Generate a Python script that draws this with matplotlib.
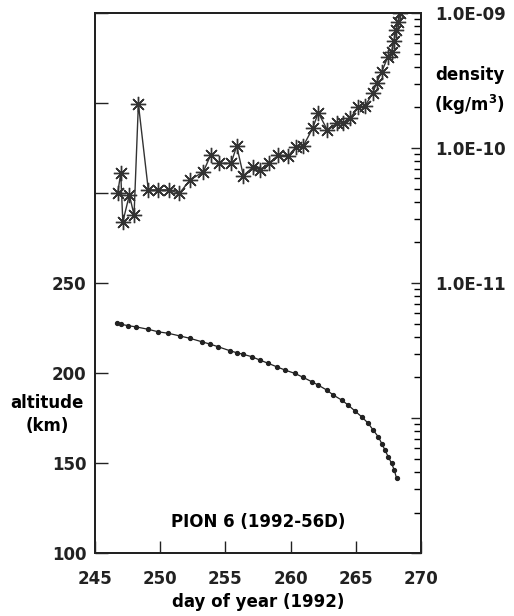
import numpy as np
import matplotlib
matplotlib.use("Agg")
import matplotlib.pyplot as plt
from matplotlib.ticker import LogLocator, NullFormatter

plt.rcParams['font.family'] = ['DejaVu Sans']
plt.rcParams['font.weight'] = 'bold'

# altitude of PION 6, day of year 1992
alt_day = [246.70, 247.03, 247.58, 248.15, 249.11, 249.88, 250.64, 251.54,
           252.30, 253.20, 253.83, 254.46, 255.36, 255.87, 256.38, 257.02,
           257.65, 258.29, 258.93, 259.56, 260.33, 260.96, 261.61, 262.11,
           262.75, 263.26, 263.90, 264.40, 264.92, 265.43, 265.93, 266.31,
           266.70, 266.96, 267.21, 267.46, 267.72, 267.92, 268.10]
alt_km = [227.6, 227.1, 226.3, 225.7, 224.3, 222.9, 222.1, 220.6,
          219.3, 217.4, 216.1, 214.6, 212.4, 211.3, 210.4, 209.1,
          207.2, 205.4, 203.5, 201.7, 199.8, 197.6, 195.2, 193.3,
          190.6, 187.8, 185.0, 182.2, 178.9, 175.7, 172.1, 168.3,
          164.6, 160.9, 157.2, 153.5, 149.8, 146.1, 141.5]

# derived density (kg/m^3)
dens_day = [246.77, 247.00, 247.16, 247.66, 248.02, 248.35, 249.11, 249.88,
            250.70, 251.48, 252.30, 253.32, 253.88, 254.54, 255.44, 255.87,
            256.38, 257.14, 257.65, 258.36, 259.05, 259.82, 260.41, 260.96,
            261.68, 262.11, 262.80, 263.52, 264.02, 264.53, 265.17, 265.68,
            266.27, 266.57, 266.96, 267.42, 267.72, 267.90, 268.05, 268.23,
            268.36]
dens = [4.67e-11, 6.50e-11, 2.84e-11, 4.49e-11, 3.19e-11, 2.12e-10, 4.89e-11, 4.89e-11,
        4.89e-11, 4.61e-11, 5.79e-11, 6.67e-11, 8.87e-11, 7.71e-11, 7.71e-11, 1.035e-10,
        6.24e-11, 7.26e-11, 6.87e-11, 7.71e-11, 8.87e-11, 8.73e-11, 1.023e-10, 1.035e-10,
        1.40e-10, 1.824e-10, 1.358e-10, 1.524e-10, 1.538e-10, 1.66e-10, 2.0e-10, 2.046e-10,
        2.54e-10, 3.05e-10, 3.67e-10, 4.70e-10, 5.16e-10, 6.24e-10, 7.48e-10, 8.63e-10,
        9.95e-10]

alt_ticks = [100, 150, 200, 250, 300, 350, 400]
alt_labels = ['100', '150', '200', '250', '', '', '']
day_ticks = [245, 250, 255, 260, 265, 270]
dens_ticks = [1e-13, 1e-12, 1e-11, 1e-10, 1e-9]
dens_labels = ['', '', '1.0E-11', '1.0E-10', '1.0E-09']

fs = 12
fig = plt.figure(figsize=(5.14, 6.16), dpi=100)
ax = fig.add_axes([0.184, 0.102, 0.636, 0.877])
ax2 = ax.twinx()

ax.plot(alt_day, alt_km, '-', color='#222222', lw=0.9,
        marker='o', ms=2.8, mfc='#222222', mec='#222222')
ax2.plot(dens_day, dens, '-', color='#333333', lw=1.0,
         marker=(8, 2, 0), ms=11, mew=1.0, mec='#333333')

ax.set_xlim(245, 270)
ax.set_ylim(100, 400)
ax.set_xticks(day_ticks)
ax.set_xticklabels([str(d) for d in day_ticks], fontsize=fs, fontweight='bold')
ax.set_yticks(alt_ticks)
ax.set_yticklabels(alt_labels, fontsize=fs, fontweight='bold')
ax.tick_params(axis='both', direction='in', length=9, width=1.0, pad=6, colors='#222222')
ax.tick_params(axis='x', pad=12)

ax2.set_yscale('log')
ax2.set_ylim(1e-13, 1e-9)
ax2.set_yticks(dens_ticks)
ax2.set_yticklabels(dens_labels, fontsize=fs, fontweight='bold')
ax2.yaxis.set_minor_locator(LogLocator(base=10, subs=np.arange(2, 10)))
ax2.yaxis.set_minor_formatter(NullFormatter())
ax2.tick_params(axis='y', which='major', direction='in', length=7, width=1.0, pad=10, colors='#222222')
ax2.tick_params(axis='y', which='minor', direction='in', length=5, width=1.0)

for a in (ax, ax2):
    for s in a.spines.values():
        s.set_linewidth(1.4)
        s.set_color('#222222')

ax.set_xlabel('day of year (1992)', fontsize=fs, fontweight='bold', labelpad=4)
fig.text(0.092, 0.327, 'altitude\n(km)', ha='center', va='center',
         fontsize=fs, fontweight='bold', linespacing=1.3)
fig.text(0.914, 0.851, 'density\n(kg/m$^3$)', ha='center', va='center',
         fontsize=fs, fontweight='bold', linespacing=1.5)
ax.text(0.5, 0.058, 'PION 6 (1992-56D)', transform=ax.transAxes, ha='center',
        va='center', fontsize=fs, fontweight='bold')

fig.savefig('out.png', dpi=100)
